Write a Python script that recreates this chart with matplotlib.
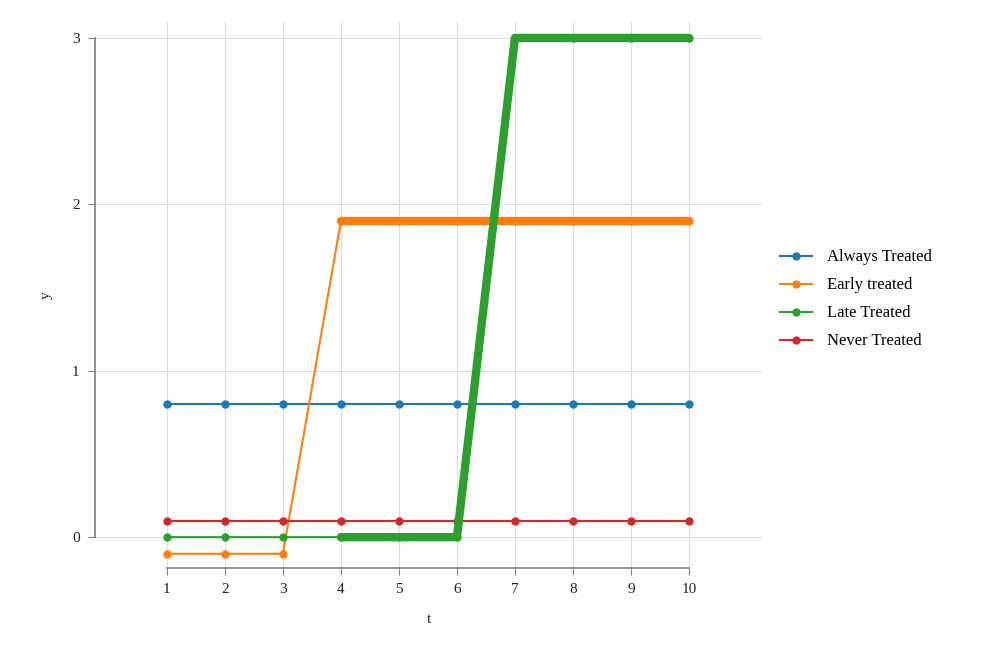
import matplotlib.pyplot as plt
import numpy as np

plt.rcParams['font.family'] = ['Liberation Serif', 'DejaVu Serif']

t = np.arange(1, 11)
always = [0.8] * 10
early = [-0.1, -0.1, -0.1, 1.9, 1.9, 1.9, 1.9, 1.9, 1.9, 1.9]
late = [0, 0, 0, 0, 0, 0, 3, 3, 3, 3]
never = [0.1] * 10

labels = ['Always Treated', 'Early treated', 'Late Treated', 'Never Treated']
colors = ['#1f77b4', '#ff7f0e', '#2ca02c', '#d62728']

fig = plt.figure(figsize=(10, 6.66), dpi=100)
ax = fig.add_axes([0.095, 0.147, 0.667, 0.82])

# thin lines with markers
for y, lab, c in zip([always, early, late, never], labels, colors):
    ax.plot(t, y, color=c, lw=1.5, marker='o', ms=5, label=lab, zorder=3)

# thick lines for treated periods (t >= 4)
ax.plot(t[3:], early[3:], color=colors[1], lw=6, solid_capstyle='round', zorder=4)
ax.plot(t[3:], late[3:], color=colors[2], lw=6, solid_capstyle='round', zorder=4)

ax.set_xlim(-0.24, 11.26)
ax.set_ylim(-0.186, 3.096)
ax.set_xticks(range(1, 11))
ax.set_yticks([0, 1, 2, 3])
ax.grid(True, color='#dddddd', lw=0.8, zorder=0)

for s in ['top', 'right']:
    ax.spines[s].set_visible(False)
ax.spines['left'].set_bounds(0, 3)
ax.spines['bottom'].set_bounds(1, 10)
for s in ['left', 'bottom']:
    ax.spines[s].set_color('#808080')
    ax.spines[s].set_linewidth(1.2)
ax.tick_params(colors='#808080', length=5, labelcolor='#222222', labelsize=11)
ax.tick_params(axis='x', pad=6)
ax.tick_params(axis='y', pad=6)

ax.set_xlabel('t', fontsize=11, color='#222222', labelpad=12)
ax.set_ylabel('y', fontsize=11, color='#222222', labelpad=14)

ax.legend(loc='center left', bbox_to_anchor=(1.005, 0.492), frameon=False,
          fontsize=12, handlelength=1.9, labelspacing=0.72, handletextpad=0.9)

fig.savefig('out.png', dpi=100)
